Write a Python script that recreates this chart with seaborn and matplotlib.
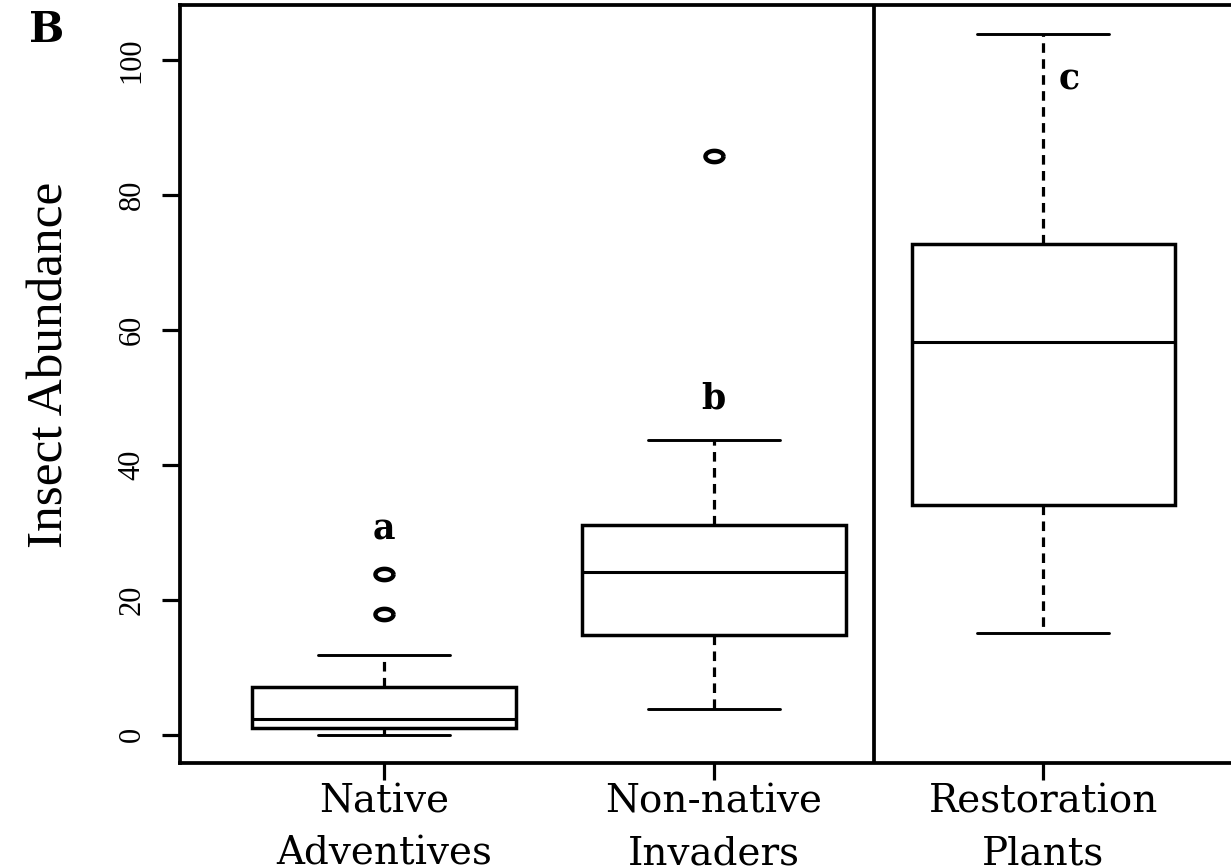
import numpy as np
import pandas as pd
import matplotlib
matplotlib.use("Agg")
import matplotlib.pyplot as plt
import seaborn as sns

# ---- data ----
groups = ["Native\nAdventives", "Non-native\nInvaders", "Restoration\nPlants"]
native_adventives = [0.0, 0.4, 0.8, 1.0, 1.5, 2.0, 2.3, 3.5, 5.0, 7.1, 11.8, 17.9, 23.9]
nonnative_invaders = [3.9, 8.0, 12.0, 14.8, 18.0, 21.0, 24.1, 26.5, 29.0, 31.1, 36.0, 43.7, 85.8]
restoration_plants = [15.1, 22.0, 29.0, 34.0, 42.0, 50.0, 58.2, 63.0, 68.0, 72.8, 84.0, 95.0, 103.9]
letters = ["a", "b", "c"]
letter_y = [29.0, 48.4, 95.6]
yticks = [0, 20, 40, 60, 80, 100]

df = pd.DataFrame({
    "group": ([groups[0]] * len(native_adventives)
              + [groups[1]] * len(nonnative_invaders)
              + [groups[2]] * len(restoration_plants)),
    "abundance": native_adventives + nonnative_invaders + restoration_plants,
})

sns.set_style("white")
plt.rcParams["font.family"] = ["Liberation Serif", "DejaVu Serif"]
plt.rcParams["text.color"] = "black"
plt.rcParams["axes.labelcolor"] = "black"
plt.rcParams["xtick.color"] = "black"
plt.rcParams["ytick.color"] = "black"

fig = plt.figure(figsize=(12.31, 8.68), dpi=100)
ax = fig.add_axes([180 / 1231, 105 / 868, 1067.6 / 1231, 758 / 868])

# ellipse-shaped open marker (reference circles are stretched horizontally)
th = np.linspace(0, 2 * np.pi, 60)
ell = list(zip(1.6 * np.cos(th), np.sin(th)))
flier_kw = dict(marker=ell, markerfacecolor="none", markeredgecolor="black",
                markersize=13.0, markeredgewidth=3.2)

sns.boxplot(
    data=df, x="group", y="abundance", order=groups, ax=ax,
    color="white", linecolor="black", linewidth=2.5, width=0.8, whis=1.5,
    saturation=1,
    whiskerprops=dict(linestyle=(0, (3, 2)), linewidth=2.3),
    capprops=dict(linewidth=2.1),
    medianprops=dict(linewidth=2.2, color="black"),
    flierprops=flier_kw,
)

for ln in ax.lines:
    if ln.get_linestyle() in ("None", "none", ""):
        ln.set_marker(ell)
        ln.set_markerfacecolor("none")
        ln.set_markeredgecolor("black")
        ln.set_markersize(13.0)
        ln.set_markeredgewidth(3.2)

ax.set_xlim(-0.62, 2.62)
ax.set_ylim(-4.16, 108.16)
ax.set_yticks(yticks)
ax.set_yticklabels([str(v) for v in yticks])
ax.set_xlabel("")
ax.set_ylabel("")

for sp in ["left", "bottom", "top"]:
    ax.spines[sp].set_visible(True)
    ax.spines[sp].set_linewidth(2.7)
    ax.spines[sp].set_color("black")
ax.spines["right"].set_visible(False)

ax.tick_params(axis="y", left=True, length=13, width=2.3, pad=11, labelsize=22,
               colors="black")
ax.tick_params(axis="x", bottom=True, length=12, width=2.3, pad=3, colors="black")
for t in ax.get_yticklabels():
    t.set_rotation(90)
    t.set_va("center")
for t in ax.get_xticklabels():
    t.set_fontfamily("DejaVu Serif")
    t.set_fontsize(28)
    t.set_linespacing(1.5)

# separator between groups
ax.axvline(1.485, color="black", linewidth=2.7)

# significance letters
letter_x = [0, 1, 2.08]
for lx, ly, s in zip(letter_x, letter_y, letters):
    ax.text(lx, ly, s, ha="center", va="baseline", fontsize=25, color="black",
            fontfamily="DejaVu Serif", fontweight="bold")

fig.text(50 / 1231, 1 - 365 / 868, "Insect Abundance", rotation=90, color="black",
         ha="center", va="center", fontsize=37, fontfamily="Liberation Serif")
fig.text(47 / 1231, 1 - 30 / 868, "B", ha="center", va="center", fontsize=30,
         color="black", fontfamily="DejaVu Serif", fontweight="bold")

fig.savefig("out.png", dpi=100, facecolor="white")
